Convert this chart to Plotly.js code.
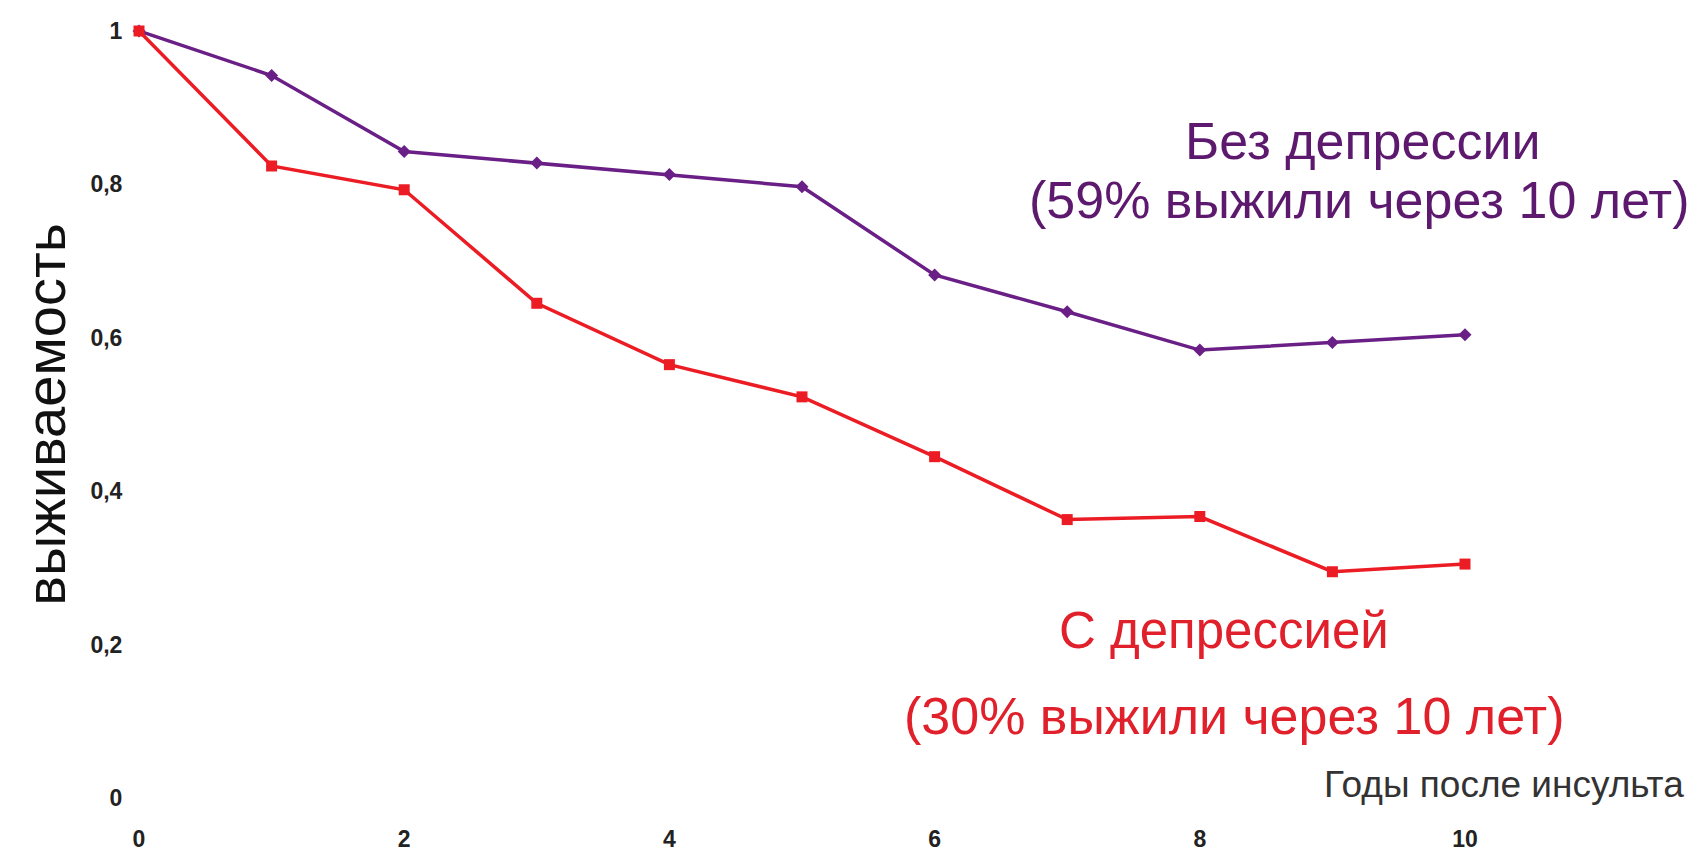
<!DOCTYPE html>
<html>
<head>
<meta charset="utf-8">
<script src="https://cdn.plot.ly/plotly-3.0.1.min.js"></script>
<style>
  html, body { margin: 0; padding: 0; background: #ffffff; }
  #chart { width: 1702px; height: 853px; }
</style>
</head>
<body>
<div id="chart"></div>
<script>
// Years after stroke
const years = [0, 1, 2, 3, 4, 5, 6, 7, 8, 9, 10];
// Survival without depression
const noDepression = [1.0, 0.942, 0.843, 0.828, 0.813, 0.797, 0.682, 0.634, 0.584, 0.594, 0.604];
// Survival with depression
const withDepression = [1.0, 0.824, 0.793, 0.645, 0.565, 0.523, 0.445, 0.363, 0.367, 0.295, 0.305];
// Tick labels
const xTickVals = [0, 2, 4, 6, 8, 10];
const xTickText = ['0', '2', '4', '6', '8', '10'];
const yTickVals = [0, 0.2, 0.4, 0.6, 0.8, 1];
const yTickText = ['0', '0,2', '0,4', '0,6', '0,8', '1'];

const FONT = 'Liberation Sans, Arial, sans-serif';
const PURPLE = '#6a1f86';
const RED = '#ec1c24';

const traces = [
  {
    x: years, y: noDepression, type: 'scatter', mode: 'lines+markers',
    name: 'Без депрессии',
    line: { color: PURPLE, width: 3.5 },
    marker: { symbol: 'diamond', size: 10, color: PURPLE },
    cliponaxis: false
  },
  {
    x: years, y: withDepression, type: 'scatter', mode: 'lines+markers',
    name: 'С депрессией',
    line: { color: RED, width: 3.5 },
    marker: { symbol: 'square', size: 11, color: RED },
    cliponaxis: false
  }
];

const layout = {
  width: 1702, height: 853,
  paper_bgcolor: '#ffffff', plot_bgcolor: '#ffffff',
  showlegend: false,
  margin: { l: 139, r: 237, t: 31, b: 55 },
  font: { family: FONT, color: '#222222' },
  xaxis: {
    range: [0, 10], showgrid: false, zeroline: false, showline: false,
    tickmode: 'array', tickvals: xTickVals, ticktext: xTickText,
    ticks: 'outside', ticklen: 20, tickcolor: 'rgba(0,0,0,0)',
    tickfont: { family: FONT, size: 23, color: '#222222', weight: 'bold' }
  },
  yaxis: {
    range: [0, 1], showgrid: false, zeroline: false, showline: false,
    tickmode: 'array', tickvals: yTickVals, ticktext: yTickText,
    ticks: 'outside', ticklen: 11, tickcolor: 'rgba(0,0,0,0)',
    tickfont: { family: FONT, size: 23, color: '#222222', weight: 'bold' },
    title: { text: 'выживаемость', font: { family: FONT, size: 56, color: '#111111' }, standoff: 6 }
  },
  annotations: [
    { xref: 'paper', yref: 'paper', x: 1.0, xanchor: 'left', xshift: -143, y: 0.018, yanchor: 'middle',
      text: 'Годы после инсульта', showarrow: false,
      font: { family: FONT, size: 37, color: '#333333' } },
    { xref: 'x', yref: 'paper', x: 9.0, xshift: 31, y: (798 - 141) / 767, yanchor: 'middle',
      text: 'Без депрессии', showarrow: false,
      font: { family: FONT, size: 52, color: '#5c196e' } },
    { xref: 'x', yref: 'paper', x: 9.0, xshift: 27, y: (798 - 200) / 767, yanchor: 'middle',
      text: '(59% выжили через 10 лет)', showarrow: false,
      font: { family: FONT, size: 52, color: '#5c196e' } },
    { xref: 'x', yref: 'paper', x: 8.0, xshift: 24, y: (798 - 630) / 767, yanchor: 'middle',
      text: 'С депрессией', showarrow: false,
      font: { family: FONT, size: 51, color: '#e0202a' } },
    { xref: 'x', yref: 'paper', x: 8.0, xshift: 34, y: (798 - 716) / 767, yanchor: 'middle',
      text: '(30% выжили через 10 лет)', showarrow: false,
      font: { family: FONT, size: 52, color: '#e0202a' } }
  ]
};

Plotly.newPlot('chart', traces, layout, { displayModeBar: false, staticPlot: true });
</script>
</body>
</html>
